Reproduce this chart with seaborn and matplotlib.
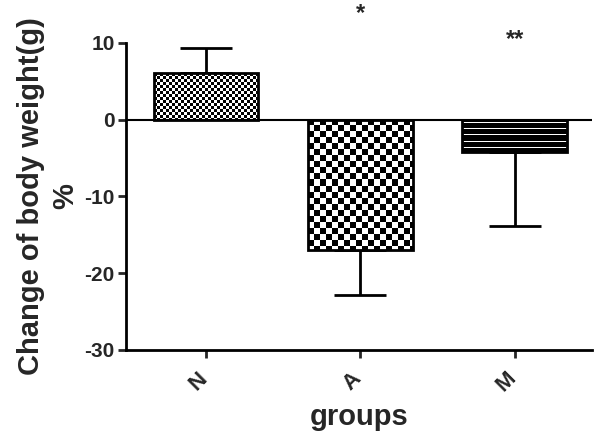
import numpy as np
import pandas as pd
import matplotlib
matplotlib.use("Agg")
import matplotlib.pyplot as plt
import matplotlib.transforms as mtransforms
import seaborn as sns

groups = ["N", "A", "M"]
means = [6.1, -17.0, -4.2]
errors = [3.3, 5.9, 9.6]
stars = ["", "*", "**"]
star_y = [None, 13.9, 10.4]

sns.set_style("white")
plt.rcParams['font.family'] = ['Liberation Sans', 'DejaVu Sans']
plt.rcParams['axes.unicode_minus'] = False

fig = plt.figure(figsize=(6.05, 4.43), dpi=100)
ax = fig.add_axes([0.208, 0.21, 0.77, 0.693])

df = pd.DataFrame({"group": groups, "value": means})
sns.barplot(data=df, x="group", y="value", ax=ax, errorbar=None,
            color="white", edgecolor="black", linewidth=2, width=0.68, zorder=3)

ax.set_xlim(-0.52, 2.5)
ax.set_ylim(-30, 10)
ax.axhline(0, color="black", lw=1.5, zorder=5)

# error bars (one-sided)
for i, (m, e) in enumerate(zip(means, errors)):
    lower = [0] if m >= 0 else [e]
    upper = [e] if m >= 0 else [0]
    ax.errorbar(i, m, yerr=[lower, upper], fmt="none", ecolor="black",
                elinewidth=2, capsize=19, capthick=2, zorder=2)

# textures
fig.canvas.draw()
patterns = ["fine", "checker", "stripes"]
for patch, pat in zip(ax.patches, patterns):
    x0, y0 = patch.get_x(), patch.get_y()
    w, h = patch.get_width(), patch.get_height()
    ylo, yhi = min(y0, y0 + h), max(y0, y0 + h)
    (px0, py0) = ax.transData.transform((x0, ylo))
    (px1, py1) = ax.transData.transform((x0 + w, yhi))
    W = max(int(round(px1 - px0)), 1)
    H = max(int(round(py1 - py0)), 1)
    yy, xx = np.mgrid[0:H, 0:W]
    if pat == "fine":
        s = 3
        arr = ((yy // s + xx // s) % 2).astype(float)
    elif pat == "checker":
        s = 6
        arr = ((yy // s + xx // s) % 2).astype(float)
    else:
        arr = np.zeros((H, W))
        arr[(yy % 6 == 3) & (yy > 2) & (yy < H - 4)] = 1.0
    im = ax.imshow(arr, extent=(x0, x0 + w, ylo, yhi), origin="upper",
                   cmap="gray", vmin=0, vmax=1, interpolation="nearest",
                   aspect="auto", zorder=2.5)
    im.set_clip_path(patch)
    patch.set_facecolor("none")
    patch.set_zorder(4)

ax.set_xlim(-0.52, 2.5)
ax.set_ylim(-30, 10)

for i, (s, y) in enumerate(zip(stars, star_y)):
    if s:
        ax.text(i, y, s, ha="center", va="center", fontsize=17,
                fontweight="bold", clip_on=False)

for side in ["top", "right"]:
    ax.spines[side].set_visible(False)
for side in ["left", "bottom"]:
    ax.spines[side].set_linewidth(2)
    ax.spines[side].set_color("black")

ax.set_yticks([-30, -20, -10, 0, 10])
ax.tick_params(axis="y", direction="out", length=6, width=2, labelsize=15, pad=2, left=True)
ax.tick_params(axis="x", direction="out", length=6, width=2, labelsize=16, pad=14, bottom=True)
for lbl in ax.get_yticklabels():
    lbl.set_fontweight("bold")
for lbl in ax.get_xticklabels():
    lbl.set_fontweight("bold")
    lbl.set_rotation(45)
    lbl.set_ha("center")
    lbl.set_va("center")
    lbl.set_rotation_mode("anchor")

offset = mtransforms.ScaledTranslation(-8 / 100, -4 / 100, fig.dpi_scale_trans)
for lbl in ax.get_xticklabels():
    lbl.set_transform(lbl.get_transform() + offset)

ax.set_xlabel("groups", fontsize=21, fontweight="bold", labelpad=5)
ax.set_ylabel("Change of body weight(g)\n%", fontsize=21, fontweight="bold",
              labelpad=4, linespacing=1.25)

fig.savefig("out.png", dpi=100)
